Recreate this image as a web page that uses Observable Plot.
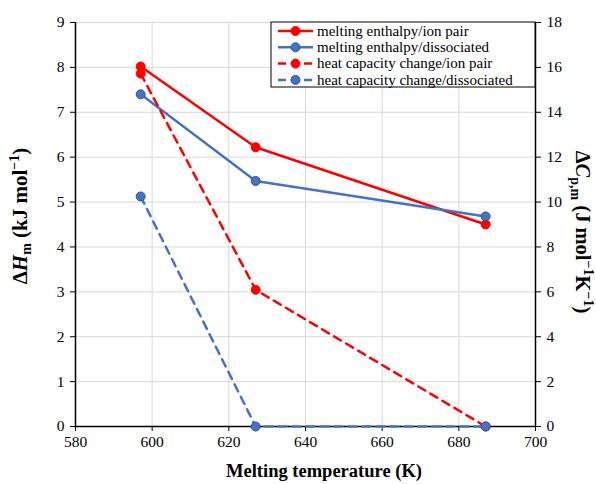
<!DOCTYPE html>
<html><head><meta charset="utf-8">
<script src="https://cdn.jsdelivr.net/npm/d3@7"></script>
<script src="https://cdn.jsdelivr.net/npm/@observablehq/plot@0.6"></script>
<style>
html,body{margin:0;padding:0;background:#fff}
svg{display:block}
</style>
</head><body><div id="chart"></div>
<script>
// ---- data ----
const temperatures = [597, 627, 687];
const enthalpyIonPair = [8.02, 6.22, 4.50];
const enthalpyDissociated = [7.40, 5.47, 4.68];
const cpIonPair = [15.72, 6.09, 0];
const cpDissociated = [10.25, 0, 0];

const xTicks = [580, 600, 620, 640, 660, 680, 700];
const leftTicks = [0, 1, 2, 3, 4, 5, 6, 7, 8, 9];
const rightTicks = [0, 2, 4, 6, 8, 10, 12, 14, 16, 18];

const seriesNames = [
  "melting enthalpy/ion pair",
  "melting enthalpy/dissociated",
  "heat capacity change/ion pair",
  "heat capacity change/dissociated"
];
const seriesValues = [enthalpyIonPair, enthalpyDissociated, cpIonPair, cpDissociated];
const seriesAxis = ["left", "left", "right", "right"];
const seriesColors = ["#ff0000", "#4472c4", "#ff0000", "#4472c4"];
const seriesDotStroke = ["#ff0000", "#2f5597", "#ff0000", "#2f5597"];
const seriesDash = [null, null, "8,6", "8,6"];

// right axis 0..18 mapped onto left 0..9
const ratio = rightTicks[rightTicks.length - 1] / leftTicks[leftTicks.length - 1];

const rows = [];
seriesNames.forEach((name, i) => {
  temperatures.forEach((t, j) => {
    rows.push({series: name, i, t, v: seriesValues[i][j],
      y: seriesAxis[i] === "right" ? seriesValues[i][j] / ratio : seriesValues[i][j]});
  });
});

const FONT = "'Liberation Serif', 'Times New Roman', serif";

const axisOpts = {tickSize: 5, fontSize: 15.5, label: null};
const marks = [
  Plot.gridX(xTicks, {stroke: "#d9d9d9", strokeOpacity: 1, strokeWidth: 1}),
  Plot.gridY(leftTicks, {stroke: "#d9d9d9", strokeOpacity: 1, strokeWidth: 1}),
  Plot.ruleX([xTicks[0]], {stroke: "#000", strokeWidth: 1.5}),
  Plot.ruleX([xTicks[xTicks.length - 1]], {stroke: "#000", strokeWidth: 1.5}),
  Plot.ruleY([0], {stroke: "#000", strokeWidth: 1.5}),
  Plot.axisX(xTicks, {...axisOpts, anchor: "bottom", tickPadding: 4, tickFormat: d => d}),
  Plot.axisY(leftTicks, {...axisOpts, anchor: "left", tickPadding: 6, tickFormat: d => d}),
  Plot.axisY(rightTicks.map(t => t / ratio), {...axisOpts, anchor: "right", tickPadding: 6, tickFormat: d => Math.round(d * ratio)})
];
seriesNames.forEach((name, i) => {
  const data = rows.filter(r => r.i === i);
  marks.push(Plot.line(data, {x: "t", y: "y", stroke: seriesColors[i], strokeWidth: 2.5,
    strokeDasharray: seriesDash[i] || undefined}));
});
seriesNames.forEach((name, i) => {
  const data = rows.filter(r => r.i === i);
  marks.push(Plot.dot(data, {x: "t", y: "y", r: 4.5, fill: seriesColors[i], stroke: seriesDotStroke[i], strokeWidth: 1}));
});

const chart = Plot.plot({
  width: 596,
  height: 484,
  marginLeft: 75,
  marginRight: 61,
  marginTop: 22,
  marginBottom: 58,
  style: {fontFamily: FONT, fontSize: "15.5px", color: "#000", background: "#fff"},
  x: {domain: [xTicks[0], xTicks[xTicks.length - 1]], axis: null},
  y: {domain: [leftTicks[0], leftTicks[leftTicks.length - 1]], axis: null},
  marks
});
document.getElementById("chart").appendChild(chart);

// ---- axis titles and legend ----
const svg = d3.select(chart);

// x title
svg.append("text")
  .attr("x", 324).attr("y", 477)
  .attr("text-anchor", "middle")
  .attr("font-weight", "bold").attr("font-size", 18.5)
  .text("Melting temperature (K)");

// left title
const lt = svg.append("text")
  .attr("transform", "translate(27,216) rotate(-90)")
  .attr("text-anchor", "middle")
  .attr("font-weight", "bold").attr("font-size", 21);
lt.append("tspan").text("Δ");
lt.append("tspan").attr("font-style", "italic").text("H");
lt.append("tspan").attr("font-size", 14).attr("dy", 4).text("m");
lt.append("tspan").attr("dy", -4).text(" (kJ mol");
lt.append("tspan").attr("font-size", 14).attr("dy", -8).text("−1");
lt.append("tspan").attr("dy", 8).text(")");

// right title
const rt = svg.append("text")
  .attr("transform", "translate(576,232) rotate(90)")
  .attr("text-anchor", "middle")
  .attr("font-weight", "bold").attr("font-size", 20.5);
rt.append("tspan").text("Δ");
rt.append("tspan").attr("font-style", "italic").text("C");
rt.append("tspan").attr("font-size", 14).attr("dy", 5).text("p,m");
rt.append("tspan").attr("dy", -5).text(" (J mol");
rt.append("tspan").attr("font-size", 14).attr("dy", -8).text("−1");
rt.append("tspan").attr("dy", 8).text("K");
rt.append("tspan").attr("font-size", 14).attr("dy", -8).text("−1");
rt.append("tspan").attr("dy", 8).text(")");

// legend
const lg = svg.append("g");
lg.append("rect").attr("x", 271).attr("y", 22).attr("width", 264).attr("height", 65)
  .attr("fill", "#fff").attr("stroke", "#000").attr("stroke-width", 1);
seriesNames.forEach((name, i) => {
  const y = 31 + i * 16.3;
  lg.append("line").attr("x1", 278).attr("x2", 313).attr("y1", y).attr("y2", y)
    .attr("stroke", seriesColors[i]).attr("stroke-width", 2.5)
    .attr("stroke-dasharray", seriesDash[i] ? "8,5" : null);
  lg.append("circle").attr("cx", 295.5).attr("cy", y).attr("r", 4.5)
    .attr("fill", seriesColors[i]).attr("stroke", seriesDotStroke[i]).attr("stroke-width", 1);
  lg.append("text").attr("x", 317).attr("y", y).attr("dy", "0.32em")
    .attr("text-anchor", "start")
    .attr("font-size", 15).text(name);
});

svg.selectAll("text").each(function () {
  this.style.setProperty("font-family", FONT, "important");
});
</script>
</body></html>
